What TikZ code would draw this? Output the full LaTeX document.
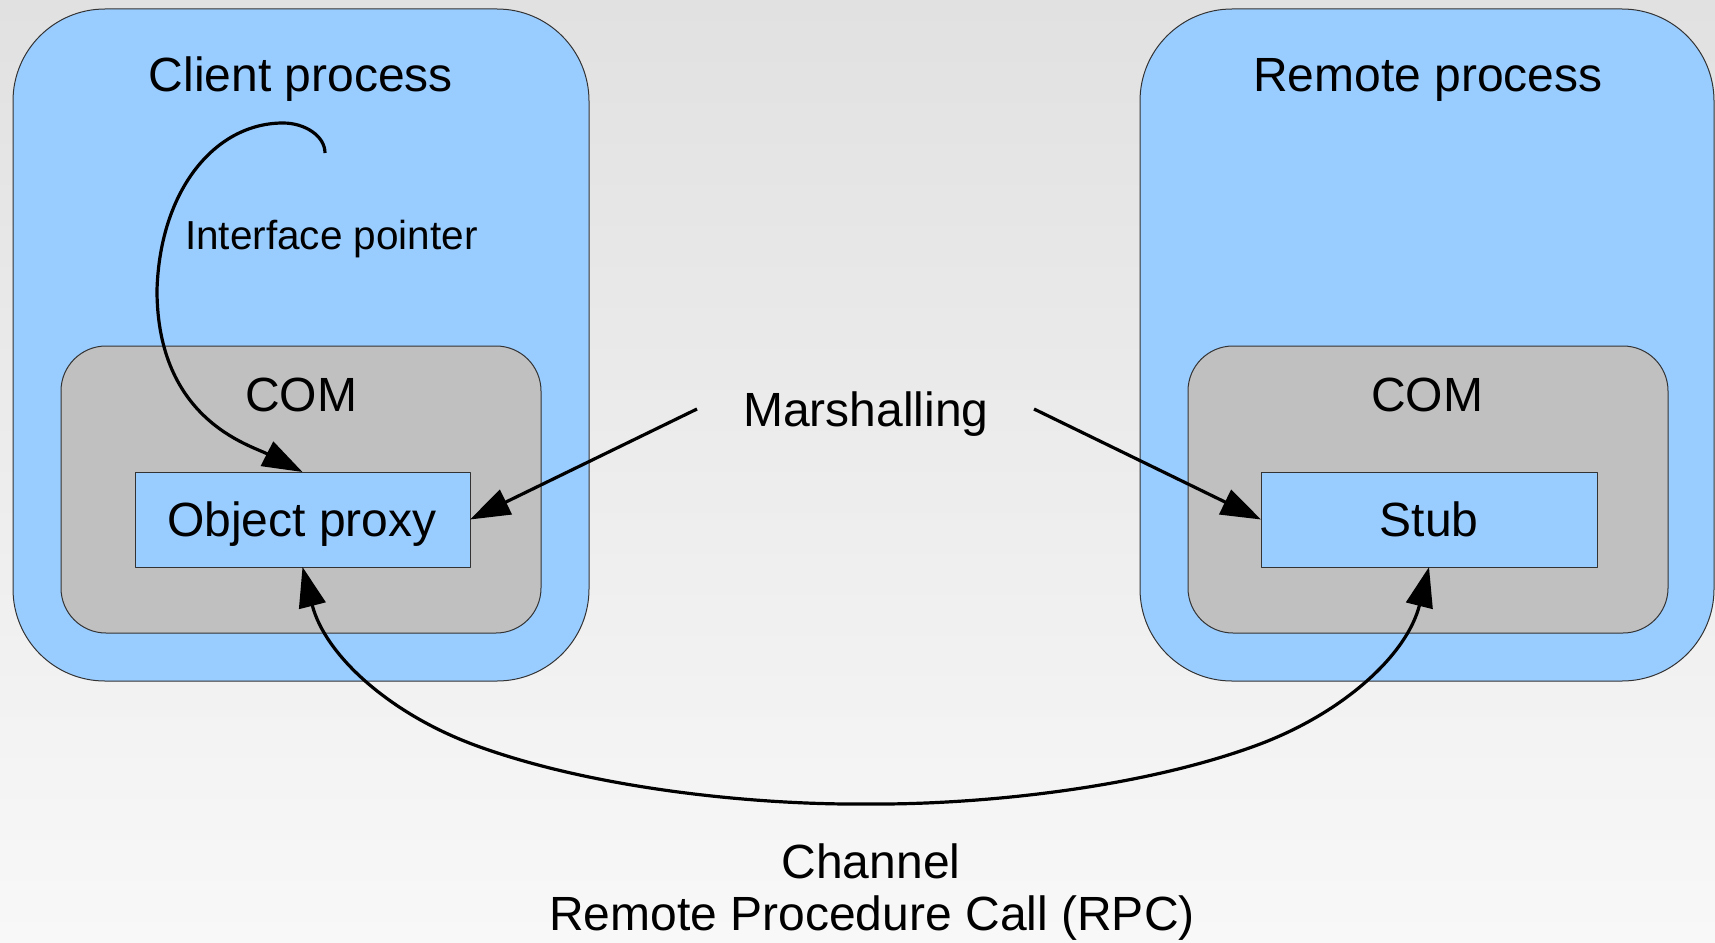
\documentclass[tikz,border=0pt]{standalone}
\usepackage{fontspec}
\setmainfont{Liberation Sans}
\usetikzlibrary{arrows.meta}
\definecolor{procblue}{HTML}{99CCFF}
\definecolor{comgray}{HTML}{C0C0C0}
\definecolor{edgegray}{HTML}{333333}
\definecolor{bgtop}{HTML}{E1E1E1}
\definecolor{bgbottom}{HTML}{F8F8F8}
\begin{document}
\begin{tikzpicture}[x=1pt,y=-1pt,
  line join=round,
  box/.style={draw=edgegray, line width=1pt, inner sep=0pt, outer sep=0pt},
  process/.style={box, fill=procblue, rounded corners=92pt,
    minimum width=#1, minimum height=672pt},
  comlayer/.style={box, fill=comgray, rounded corners=45pt,
    minimum width=480pt, minimum height=287pt},
  objbox/.style={box, fill=procblue, minimum width=#1, minimum height=95pt},
  lbl/.style={inner sep=0pt, outer sep=0pt, anchor=base,
    font=\fontsize{48}{57}\selectfont},
  smalllbl/.style={inner sep=0pt, outer sep=0pt, anchor=base west,
    font=\fontsize{40.5}{48}\selectfont},
  conn/.style={draw=black, line width=3.2pt, line cap=butt},
  >={Triangle[length=40pt,width=27pt]}
]
% page background
\useasboundingbox (0,0) rectangle (1715,942);
\shade[top color=bgtop, bottom color=bgbottom] (0,0) rectangle (1715,942);

% client side
\node[process=576pt] (client) at (301,345) {};
\node[comlayer] (clientcom) at (301,489.5) {};
\node[objbox=335pt] (proxy) at (302.5,519.5) {};
\node[lbl] (clienttitle) at (301,92) {Client process};
\node[lbl] (clientcomtitle) at (301,411.5) {COM};
\node[lbl] (proxytext) at (302,536) {Object proxy};
\node[smalllbl] (iplabel) at (185,249) {Interface pointer};

% remote side
\node[process=574pt] (remote) at (1427,345) {};
\node[comlayer] (remotecom) at (1428,489.5) {};
\node[objbox=336pt] (stub) at (1429,519.5) {};
\node[lbl] (remotetitle) at (1428,92) {Remote process};
\node[lbl] (remotecomtitle) at (1427,411.5) {COM};
\node[lbl] (stubtext) at (1429,536) {Stub};

% middle labels
\node[lbl] (marsh) at (866,426) {Marshalling};
\node[lbl] (channel) at (871,878) {Channel};
\node[lbl] (rpc) at (872,930) {Remote Procedure Call (RPC)};

% free ends of the connectors
\coordinate (ipstart) at (325,153);
\coordinate (mleft) at (697,409);
\coordinate (mright) at (1034,409);

% interface pointer hook
\draw[conn,->] (ipstart)
  .. controls (325,136) and (305,123) .. (283,123)
  .. controls (215,123) and (160,190) .. (157,290)
  .. controls (157,420) and (250,445) .. (proxy.north);

% marshalling arrows
\draw[conn,->] (mleft) -- (proxy.east);
\draw[conn,->] (mright) -- (stub.west);

% channel between proxy and stub
\draw[conn,<->] (proxy.south)
  .. controls (325,655) and (390,715) .. (480,747)
  .. controls (600,790) and (760,805) .. (866,804)
  .. controls (972,805) and (1132,790) .. (1252,747)
  .. controls (1342,715) and (1407,655) .. (stub.south);
\end{tikzpicture}
\end{document}
